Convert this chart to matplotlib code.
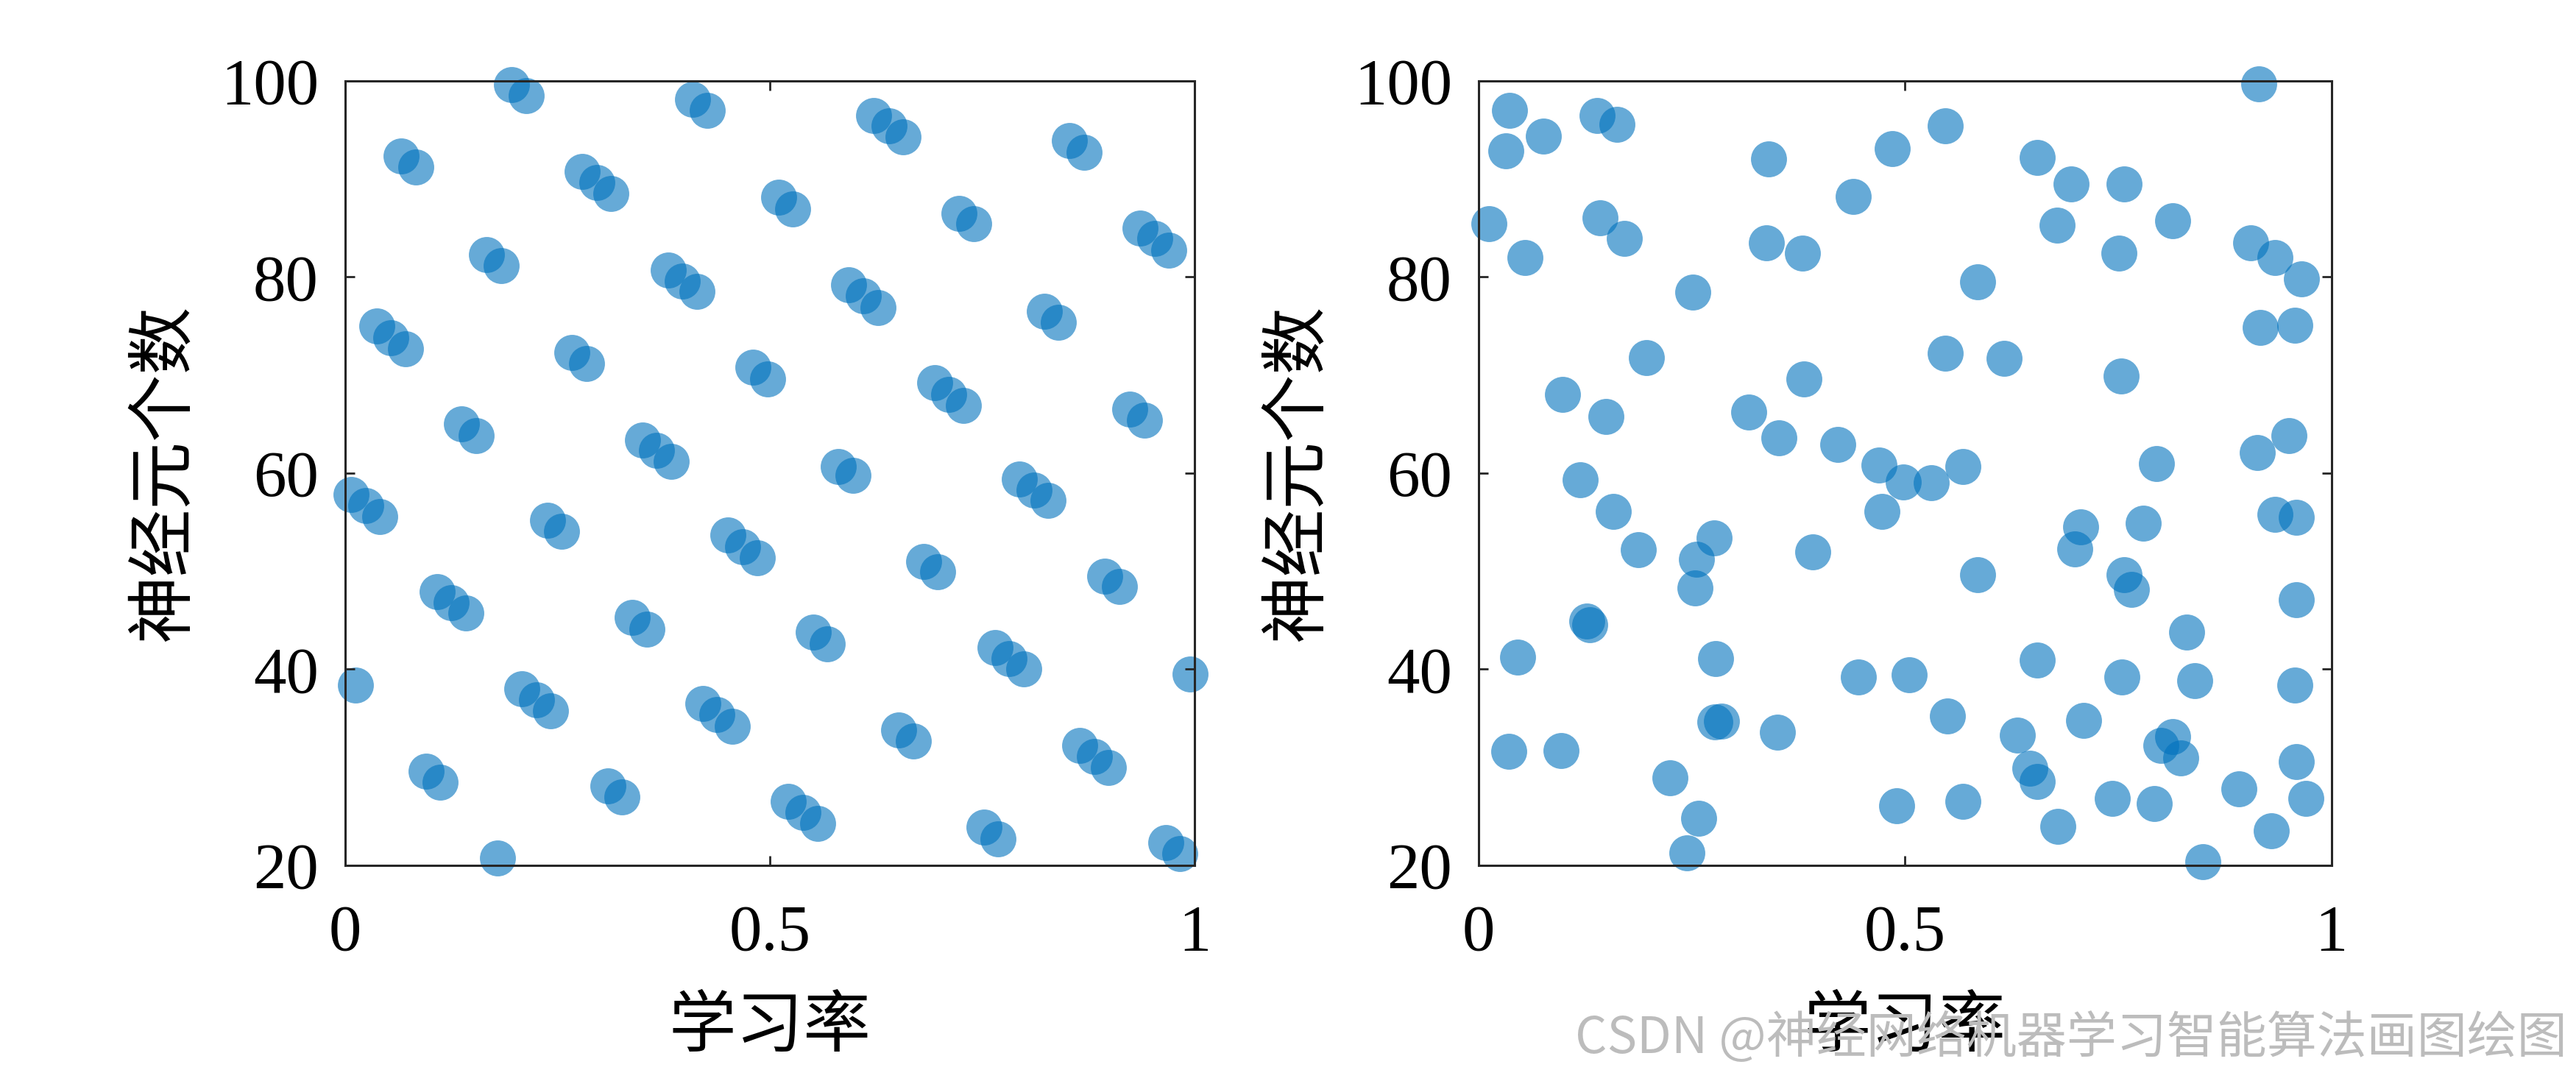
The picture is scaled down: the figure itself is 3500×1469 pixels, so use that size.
import matplotlib
matplotlib.use("Agg")
import matplotlib.pyplot as plt
import numpy as np

# left panel: quasi-random (lattice) samples
lattice_x = [0.196, 0.213, 0.409, 0.426, 0.066, 0.083, 0.279, 0.296, 0.313, 0.166,
             0.184, 0.380, 0.397, 0.414, 0.037, 0.054, 0.071, 0.267, 0.284, 0.480,
             0.497, 0.137, 0.154, 0.350, 0.367, 0.384, 0.622, 0.640, 0.657, 0.853,
             0.870, 0.510, 0.527, 0.723, 0.740, 0.936, 0.953, 0.970, 0.593, 0.610,
             0.627, 0.823, 0.840, 0.694, 0.711, 0.728, 0.924, 0.941, 0.581, 0.598,
             0.007, 0.024, 0.041, 0.238, 0.255, 0.451, 0.468, 0.485, 0.108, 0.125,
             0.142, 0.338, 0.355, 0.012, 0.208, 0.225, 0.242, 0.421, 0.438, 0.456,
             0.095, 0.112, 0.309, 0.326, 0.179, 0.794, 0.811, 0.828, 0.681, 0.698,
             0.894, 0.912, 0.551, 0.568, 0.765, 0.782, 0.799, 0.995, 0.652, 0.669,
             0.865, 0.882, 0.899, 0.522, 0.539, 0.556, 0.752, 0.769, 0.966, 0.983]
lattice_y = [99.6, 98.5, 98.1, 97.0, 92.3, 91.2, 90.75, 89.6, 88.5, 82.3,
             81.15, 80.7, 79.6, 78.5, 75.0, 73.8, 72.7, 72.3, 71.2, 70.8,
             69.6, 65.0, 63.8, 63.4, 62.3, 61.2, 96.5, 95.4, 94.3, 93.9,
             92.7, 88.1, 86.9, 86.5, 85.4, 85.0, 83.9, 82.7, 79.2, 78.1,
             76.9, 76.5, 75.4, 69.2, 68.0, 66.9, 66.5, 65.4, 60.7, 59.8,
             57.85, 56.7, 55.6, 55.2, 54.1, 53.7, 52.5, 51.4, 47.9, 46.8,
             45.7, 45.3, 44.1, 38.4, 38.0, 36.9, 35.75, 36.5, 35.4, 34.2,
             29.6, 28.5, 28.1, 27.0, 20.75, 59.4, 58.3, 57.2, 51.0, 49.9,
             49.5, 48.4, 43.75, 42.6, 42.2, 41.1, 40.0, 39.5, 33.8, 32.7,
             32.25, 31.1, 30.0, 26.5, 25.4, 24.3, 23.9, 22.7, 22.3, 21.2]

# right panel: random samples
random_x = [0.036, 0.076, 0.032, 0.139, 0.162, 0.340, 0.485, 0.439, 0.012, 0.054,
            0.142, 0.171, 0.337, 0.380, 0.251, 0.197, 0.098, 0.149, 0.317, 0.352,
            0.381, 0.421, 0.469, 0.498, 0.531, 0.568, 0.915, 0.547, 0.655, 0.695,
            0.757, 0.678, 0.814, 0.751, 0.905, 0.934, 0.965, 0.585, 0.916, 0.957,
            0.547, 0.616, 0.753, 0.950, 0.913, 0.795, 0.119, 0.158, 0.187, 0.276,
            0.255, 0.254, 0.392, 0.473, 0.127, 0.130, 0.046, 0.278, 0.445, 0.505,
            0.277, 0.285, 0.350, 0.035, 0.097, 0.224, 0.258, 0.244, 0.490, 0.934,
            0.959, 0.706, 0.699, 0.779, 0.585, 0.757, 0.765, 0.959, 0.830, 0.655,
            0.754, 0.840, 0.957, 0.550, 0.709, 0.632, 0.814, 0.800, 0.823, 0.646,
            0.655, 0.959, 0.568, 0.679, 0.743, 0.792, 0.891, 0.970, 0.929, 0.849]
random_y = [97.0, 94.35, 92.85, 96.5, 95.6, 92.0, 93.1, 88.2, 85.4, 82.0,
            86.0, 83.9, 83.5, 82.4, 78.45, 71.8, 68.0, 65.8, 66.2, 63.6,
            69.6, 62.9, 60.8, 59.1, 59.0, 60.7, 99.7, 95.4, 92.2, 89.5,
            89.5, 85.3, 85.7, 82.4, 83.5, 82.0, 79.8, 79.5, 74.85, 75.1,
            72.2, 71.7, 69.9, 63.8, 62.1, 61.0, 59.3, 56.1, 52.2, 53.4,
            51.2, 48.3, 52.0, 56.1, 44.9, 44.5, 41.2, 41.1, 39.2, 39.4,
            34.6, 34.7, 33.6, 31.6, 31.7, 28.9, 24.8, 21.3, 26.1, 55.8,
            55.5, 54.5, 52.3, 54.9, 49.6, 49.6, 48.1, 47.1, 43.75, 40.9,
            39.2, 38.8, 38.4, 35.2, 34.8, 33.3, 33.1, 32.25, 30.95, 29.9,
            28.55, 30.6, 26.5, 24.0, 26.8, 26.3, 27.8, 26.8, 23.5, 20.4]

x_ticks = [0, 0.5, 1]
x_tick_labels = ["0", "0.5", "1"]
y_ticks = [20, 40, 60, 80, 100]

xlabel = "学习率"
ylabel = "神经元个数"

BLUE = (0, 114 / 255, 189 / 255)
AX_COLOR = "#262626"
CJK = ["Noto Sans CJK SC", "DejaVu Sans"]
NUM = ["Liberation Serif", "DejaVu Serif"]

fig = plt.figure(figsize=(17.5, 7.345), dpi=200)

panels = [
    ([0.134, 0.1995, 0.3297, 0.7257], lattice_x, lattice_y),
    ([0.574, 0.1995, 0.3311, 0.7257], random_x, random_y),
]

for rect, xs, ys in panels:
    ax = fig.add_axes(rect)
    ax.scatter(xs, ys, s=310, color=BLUE, alpha=0.6, linewidths=0, clip_on=False)
    ax.set_xlim(0, 1)
    ax.set_ylim(20, 100)
    ax.set_xticks(x_ticks)
    ax.set_xticklabels(x_tick_labels, family=NUM, fontsize=32)
    ax.set_yticks(y_ticks)
    ax.set_yticklabels([str(v) for v in y_ticks], family=NUM, fontsize=32)
    ax.tick_params(axis="both", direction="in", length=4.7, width=1.0,
                   color=AX_COLOR, top=True, right=True)
    ax.tick_params(axis="x", pad=19)
    ax.tick_params(axis="y", pad=13)
    for sp in ax.spines.values():
        sp.set_linewidth(1.1)
        sp.set_color(AX_COLOR)
    ax.set_xlabel(xlabel, family=CJK, fontsize=33, labelpad=14)
    ax.set_ylabel(ylabel, family=CJK, fontsize=33, labelpad=11)

# site watermark (it runs over the right panel's x label, as in the source image)
fig.text(0.9965, 0.039, "CSDN @神经网络机器学习智能算法画图绘图", family=CJK,
         fontsize=24.5, color="#bcbcbc", ha="right", va="center")

fig.savefig("out.png", dpi=200)
